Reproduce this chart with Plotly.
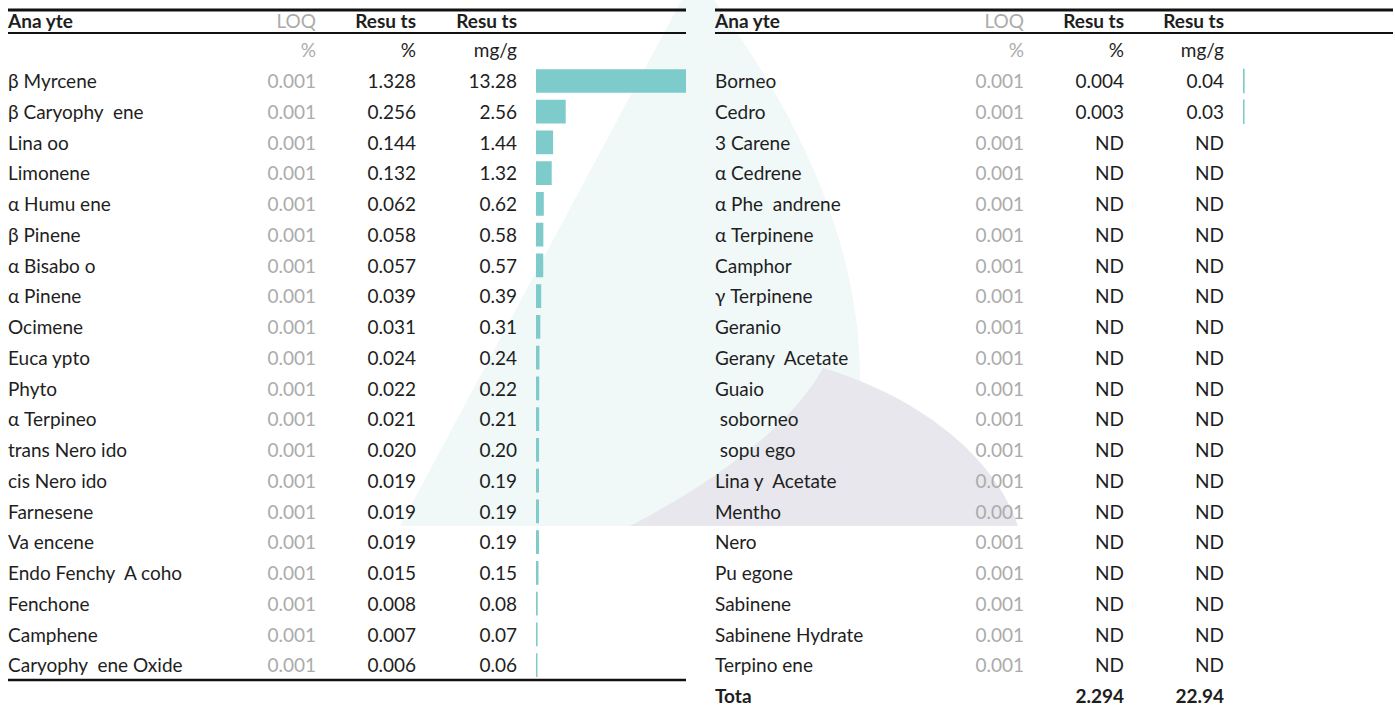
import plotly.graph_objects as go

# ---------------- data ----------------
left_analytes = ["β Myrcene", "β Caryophy  ene", "Lina oo", "Limonene", "α Humu ene",
                 "β Pinene", "α Bisabo o", "α Pinene", "Ocimene", "Euca ypto",
                 "Phyto", "α Terpineo", "trans Nero ido", "cis Nero ido", "Farnesene",
                 "Va encene", "Endo Fenchy  A coho", "Fenchone", "Camphene",
                 "Caryophy  ene Oxide"]
left_loq = ["0.001"] * 20
left_pct = [1.328, 0.256, 0.144, 0.132, 0.062, 0.058, 0.057, 0.039, 0.031, 0.024,
            0.022, 0.021, 0.020, 0.019, 0.019, 0.019, 0.015, 0.008, 0.007, 0.006]
left_mgg = [13.28, 2.56, 1.44, 1.32, 0.62, 0.58, 0.57, 0.39, 0.31, 0.24,
            0.22, 0.21, 0.20, 0.19, 0.19, 0.19, 0.15, 0.08, 0.07, 0.06]

right_analytes = ["Borneo", "Cedro", "3 Carene", "α Cedrene", "α Phe  andrene",
                  "α Terpinene", "Camphor", "γ Terpinene", "Geranio", "Gerany  Acetate",
                  "Guaio", " soborneo", " sopu ego", "Lina y  Acetate", "Mentho",
                  "Nero", "Pu egone", "Sabinene", "Sabinene Hydrate", "Terpino ene"]
right_loq = ["0.001"] * 20
right_pct = [0.004, 0.003] + [None] * 18
right_mgg = [0.04, 0.03] + [None] * 18

total_label = "Tota"
total_pct = 2.294
total_mgg = 22.94

header_labels = ["Ana yte", "LOQ", "Resu ts", "Resu ts"]
unit_labels = ["", "%", "%", "mg/g"]

# ---------------- styling ----------------
FONT = "Lato"
FS = 19
DARK = "#1e1e1e"
GREY = "#ababab"
BAR = "#7ecbcc"
ROW_PX = 30.74
ROW0_PX = 81.0
TXT_SHIFT = 2.5 / ROW_PX   # text sits slightly lower than row centre


def px2row(py):
    return (py - ROW0_PX) / ROW_PX


def fmt(v, d):
    return "ND" if v is None else f"{v:.{d}f}"


fig = go.Figure()

rows = list(range(20))
trow = [r + TXT_SHIFT for r in rows]
HDR = px2row(21) + TXT_SHIFT
UNIT = px2row(50) + TXT_SHIFT

tables = [
    dict(x0=8, xl=316, xp=416, xm=517, xend=686, an=left_analytes, loq=left_loq,
         pct=left_pct, mgg=left_mgg, xa="x2", lw=1.6),
    dict(x0=715, xl=1024, xp=1124, xm=1224, xend=1393, an=right_analytes, loq=right_loq,
         pct=right_pct, mgg=right_mgg, xa="x3", lw=2.4),
]


def text_trace(xs, ys, texts, color, pos, bold=False):
    return go.Scatter(
        x=xs, y=ys, text=texts, mode="text", textposition=pos,
        textfont=dict(family=FONT, size=FS, color=color, weight=700 if bold else 400),
        hoverinfo="skip", showlegend=False, cliponaxis=False,
    )


for t in tables:
    fig.add_trace(text_trace([t["x0"]] * 20, trow, t["an"], DARK, "middle right"))
    fig.add_trace(text_trace([t["xl"]] * 20, trow, t["loq"], GREY, "middle left"))
    fig.add_trace(text_trace([t["xp"]] * 20, trow, [fmt(v, 3) for v in t["pct"]], DARK, "middle left"))
    fig.add_trace(text_trace([t["xm"]] * 20, trow, [fmt(v, 2) for v in t["mgg"]], DARK, "middle left"))
    fig.add_trace(text_trace([t["x0"]], [HDR], [header_labels[0]], DARK, "middle right", bold=True))
    fig.add_trace(text_trace([t["xl"]], [HDR], [header_labels[1]], GREY, "middle left"))
    fig.add_trace(text_trace([t["xp"], t["xm"]], [HDR, HDR], header_labels[2:], DARK, "middle left", bold=True))
    fig.add_trace(text_trace([t["xl"]], [UNIT], [unit_labels[1]], GREY, "middle left"))
    fig.add_trace(text_trace([t["xp"], t["xm"]], [UNIT, UNIT], unit_labels[2:], DARK, "middle left"))
    fig.add_trace(go.Bar(
        x=t["mgg"], y=rows, orientation="h", xaxis=t["xa"], yaxis="y",
        marker=dict(color=BAR, line=dict(color=BAR, width=t["lw"])), width=0.72,
        hoverinfo="skip", showlegend=False,
    ))

R = tables[1]
fig.add_trace(text_trace([R["x0"]], [20 + TXT_SHIFT], [total_label], DARK, "middle right", bold=True))
fig.add_trace(text_trace([R["xp"], R["xm"]], [20 + TXT_SHIFT, 20 + TXT_SHIFT],
                         [fmt(total_pct, 3), fmt(total_mgg, 2)], DARK, "middle left", bold=True))

shapes = []
for t, bottom in [(tables[0], True), (tables[1], False)]:
    shapes.append(dict(type="line", xref="x", yref="y", x0=t["x0"], x1=t["xend"],
                       y0=px2row(10), y1=px2row(10), line=dict(color="#111", width=3), layer="above"))
    shapes.append(dict(type="line", xref="x", yref="y", x0=t["x0"], x1=t["xend"],
                       y0=px2row(33), y1=px2row(33), line=dict(color="#111", width=2.2), layer="above"))
    if bottom:
        shapes.append(dict(type="line", xref="x", yref="y", x0=t["x0"], x1=t["xend"],
                           y0=px2row(680), y1=px2row(680), line=dict(color="#111", width=2.5), layer="above"))

# watermark (background decoration, pixel coordinates on helper axes)
shapes.append(dict(type="path", xref="x", yref="y2", layer="below",
                   path="M 695,-25 L 400,526 L 835,526 C 885,380 870,200 695,-25 Z",
                   fillcolor="#f0f8f8", line=dict(width=0)))
shapes.append(dict(type="path", xref="x", yref="y2", layer="below",
                   path="M 823,368 C 915,395 995,455 1018,526 L 630,526 C 700,490 790,430 823,368 Z",
                   fillcolor="#e7e7ed", line=dict(width=0)))

fig.update_layout(
    width=1395, height=709,
    margin=dict(l=0, r=0, t=0, b=0),
    paper_bgcolor="white", plot_bgcolor="rgba(0,0,0,0)",
    shapes=shapes, barmode="overlay",
    xaxis=dict(domain=[0, 1], range=[0, 1395], visible=False, fixedrange=True),
    xaxis2=dict(domain=[536 / 1395, 686 / 1395], range=[0, 13.28], anchor="y",
                visible=False, fixedrange=True),
    xaxis3=dict(domain=[1243 / 1395, 1393 / 1395], range=[0, 13.28], anchor="y",
                visible=False, fixedrange=True),
    yaxis=dict(domain=[0, 1], range=[px2row(709), px2row(0)], visible=False, fixedrange=True),
    yaxis2=dict(domain=[0, 1], range=[709, 0], overlaying="y", visible=False, fixedrange=True),
    font=dict(family=FONT, color=DARK),
)

fig.write_html("out.html", config={"displayModeBar": False},
               post_script="document.body.style.margin='0';document.body.style.overflow='hidden';")
